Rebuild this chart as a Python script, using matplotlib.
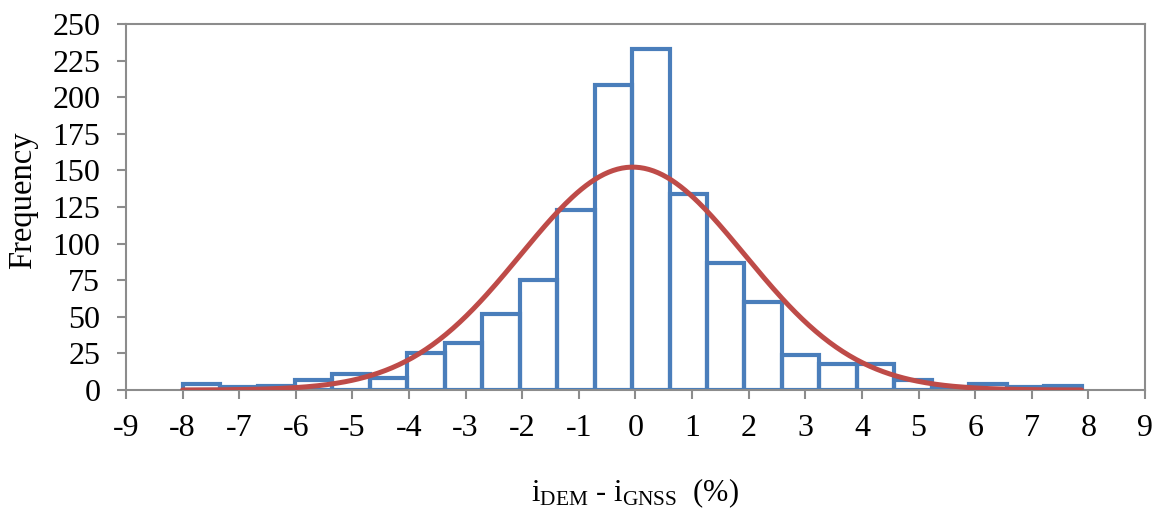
import numpy as np
import matplotlib
matplotlib.use("Agg")
import matplotlib.pyplot as plt

plt.rcParams["font.family"] = ["Liberation Serif", "DejaVu Serif"]
plt.rcParams["mathtext.fontset"] = "custom"
plt.rcParams["mathtext.rm"] = "Liberation Serif"
plt.rcParams["mathtext.it"] = "Liberation Serif:italic"
plt.rcParams["axes.unicode_minus"] = False

# histogram: 24 bins from -8 to 7.88
bin_start = -8.0
bin_end = 7.88
counts = [4, 2, 3, 7, 11, 8, 25, 32, 52, 75, 123, 208,
          233, 134, 87, 60, 24, 18, 18, 7, 2, 4, 2, 3]

# fitted normal curve parameters
fit_mean = -0.05
fit_std = 1.98

x_ticks = list(range(-9, 10))
y_ticks = list(range(0, 251, 25))

BLUE = "#4a7ebb"
RED = "#be4b48"
AXIS_GREY = "#8c8c8c"

edges = np.linspace(bin_start, bin_end, len(counts) + 1)
width = edges[1] - edges[0]

fig = plt.figure(figsize=(11.59, 5.14), dpi=100)
ax = fig.add_axes([0.1087, 0.2412, 0.8792, 0.7121])

ax.bar(edges[:-1], counts, width=width, align="edge", fill=False,
       edgecolor=BLUE, linewidth=3.0, zorder=2)

xs = np.linspace(bin_start, bin_end, 400)
n_total = sum(counts)
pdf = n_total * width / (fit_std * np.sqrt(2 * np.pi)) * np.exp(-0.5 * ((xs - fit_mean) / fit_std) ** 2)
ax.plot(xs, pdf, color=RED, linewidth=3.6, solid_capstyle="round", zorder=3)

ax.set_xlim(-9, 9)
ax.set_ylim(0, 250)
ax.set_xticks(x_ticks)
ax.set_yticks(y_ticks)

for side in ["left", "right", "top", "bottom"]:
    ax.spines[side].set_color(AXIS_GREY)
    ax.spines[side].set_linewidth(1.5)

ax.tick_params(axis="both", colors=AXIS_GREY, labelcolor="black",
               labelsize=23, width=1.5, length=6.5, direction="out")
ax.tick_params(axis="x", pad=11)
ax.tick_params(axis="y", pad=12)

ax.set_ylabel("Frequency", fontsize=23.5)
ax.yaxis.set_label_coords(-0.086, 0.52)
ax.set_xlabel(r"i$_{\mathrm{DEM}}$ - i$_{\mathrm{GNSS}}$  (%)", fontsize=22)
ax.xaxis.set_label_coords(0.5, -0.235)

fig.savefig("out.png", dpi=100)
